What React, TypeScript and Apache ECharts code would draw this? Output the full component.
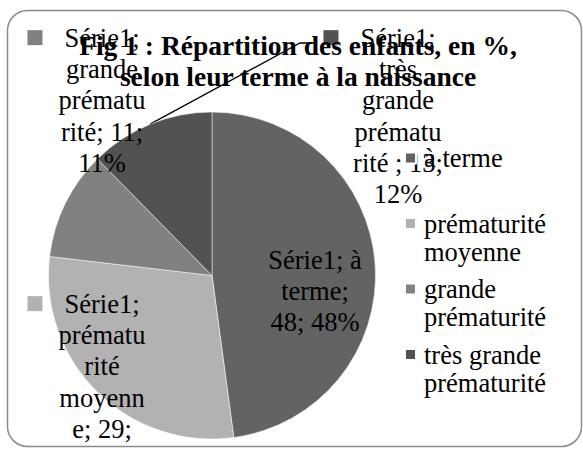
import React, { useEffect, useRef } from "react";
import * as echarts from "echarts";

const seriesName = "Série1";
const categories = ["à terme", "prématurité moyenne", "grande prématurité", "très grande prématurité"];
const values = [48.4, 29.3, 10.9, 12.5];
const colors = ["#636363", "#b2b2b2", "#818181", "#525252"];
const titleLines = ["Fig 1 : Répartition des enfants, en %,", "selon leur terme à la naissance"];
// Excel's word-wrapped data labels as visible: $s = series name, $v = value, $p = percent
const labelTemplates = [
  ["$s; à", "terme;", "$v; $p%"],
  ["$s;", "prématu", "rité", "moyenn", "e; $v;"],
  ["$s;", "grande", "prématu", "rité; $v;", "$p%"],
  ["$s;", "très", "grande", "prématu", "rité ; $v;", "$p%"],
];

const FONT = "'Liberation Serif', 'Times New Roman', serif";
const LABEL_POS = [
  [315, 244],
  [102, 288],
  [102, 22],
  [398, 22],
];
const CENTER = [212, 275.5];
const RADIUS = 163.5;
const LH = 31.3;

export default function App() {
  const ref = useRef<HTMLDivElement>(null);
  useEffect(() => {
    if (!ref.current) return;
    const chart = echarts.init(ref.current, undefined, { renderer: "svg" });

    const rich: any = {
      t: { fontFamily: FONT, fontSize: 26.5, lineHeight: LH, color: "#000" },
      gap: { width: 22, lineHeight: LH },
      pad: { width: 37, lineHeight: LH },
    };
    colors.forEach((c, i) => {
      rich["sq" + i] = { width: 15, height: 15, backgroundColor: c, lineHeight: LH };
    });

    const labelFormatter = (p: any) => {
      const lines = labelTemplates[p.dataIndex].map((l) =>
        l
          .replace("$s", p.seriesName)
          .replace("$v", String(Math.round(p.value)))
          .replace("$p", String(Math.round(p.percent)))
      );
      return lines
        .map((l, i) => (i === 0 ? `{sq${p.dataIndex}|}{gap|}{t|${l}}{pad|}` : `{t|${l}}`))
        .join("\n");
    };

    const wrapName = (name: string) => {
      if (name.length <= 10) return "\n" + name + "\n";
      const k = name.lastIndexOf(" ");
      return "\n" + name.slice(0, k) + "\n" + name.slice(k + 1);
    };

    chart.setOption({
      animation: false,
      backgroundColor: "#fff",
      title: {
        text: titleLines.join("\n"),
        left: 298,
        top: 30,
        textAlign: "center",
        padding: 0,
        textStyle: {
          fontFamily: FONT,
          fontWeight: "bold",
          fontSize: 27.5,
          lineHeight: 31,
          color: "#000",
        },
      },
      legend: {
        orient: "vertical",
        left: 404,
        top: 116,
        padding: 0,
        itemGap: -18.5,
        itemWidth: 11,
        itemHeight: 11,
        icon: "rect",
        selectedMode: false,
        data: categories,
        formatter: wrapName,
        textStyle: {
          fontFamily: FONT,
          fontSize: 26.5,
          lineHeight: 28,
          color: "#000",
          padding: [0, 0, 0, 3],
        },
      },
      graphic: [
        {
          type: "rect",
          silent: true,
          z: 100,
          shape: { x: 7.5, y: 10.5, width: 574, height: 436, r: 20 },
          style: { fill: "none", stroke: "#8a8a8a", lineWidth: 1.5 },
        },
      ],
      series: [
        {
          type: "pie",
          name: seriesName,
          center: CENTER,
          radius: RADIUS,
          startAngle: 90,
          clockwise: true,
          silent: true,
          avoidLabelOverlap: false,
          emphasis: { disabled: true },
          itemStyle: { borderColor: "#ffffff", borderWidth: 0.5 },
          data: categories.map((n, i) => ({ name: n, value: values[i], itemStyle: { color: colors[i] } })),
          label: {
            show: true,
            position: "inside",
            formatter: labelFormatter,
            rich,
            width: 220,
            overflow: "none",
            align: "center",
            color: "#000",
          },
          labelLine: { show: false },
          labelLayout: (params: any) => ({
            x: LABEL_POS[params.dataIndex][0],
            y: LABEL_POS[params.dataIndex][1],
            align: "center",
            verticalAlign: "top",
          }),
        },
        {
          type: "pie",
          name: seriesName,
          center: CENTER,
          radius: RADIUS,
          startAngle: 90,
          clockwise: true,
          silent: true,
          legendHoverLink: false,
          avoidLabelOverlap: false,
          emphasis: { disabled: true },
          data: categories.map((n, i) => ({
            name: n,
            value: values[i],
            itemStyle: { color: "rgba(0,0,0,0)" },
            label: { show: i === 3 },
            labelLine: { show: i === 3 },
          })),
          label: {
            show: true,
            position: "outside",
            formatter: () => " ",
            fontSize: 1,
            color: "rgba(0,0,0,0)",
          },
          labelLine: { show: true, length: 10, length2: 12, lineStyle: { color: "#000", width: 1.3 } },
          labelLayout: (params: any) =>
            params.dataIndex === 3 ? { x: 312, y: 43, align: "left", verticalAlign: "middle" } : {},
        },
      ],
    });
    return () => chart.dispose();
  }, []);

  return (
    <div
      ref={ref}
      style={{ position: "absolute", left: 0, top: 0, width: 583, height: 450 }}
    />
  );
}
